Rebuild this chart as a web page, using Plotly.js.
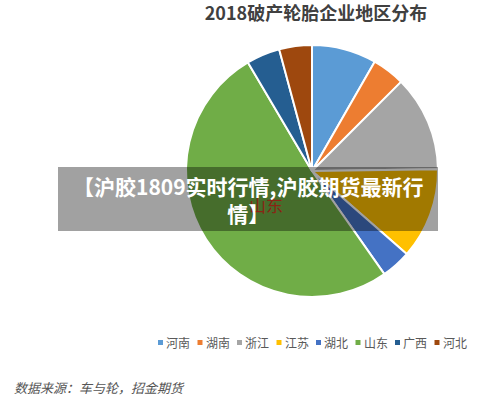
<!DOCTYPE html>
<html>
<head>
<meta charset="utf-8">
<script src="https://cdn.plot.ly/plotly-3.0.1.min.js"></script>
<style>html,body{margin:0;padding:0;background:#fff;}#chart{width:500px;height:400px;}</style>
</head>
<body>
<div id="chart"></div>
<script>
const regions = ["河南", "湖南", "浙江", "江苏", "湖北", "山东", "广西", "河北"];
const shares = [8.3, 4.2, 12.3, 11.7, 3.8, 51.3, 4.3, 4.2];
const colors = ["#5B9BD5", "#ED7D31", "#A5A5A5", "#FFC000", "#4472C4", "#70AD47", "#255E91", "#9E480E"];
const titleText = "2018破产轮胎企业地区分布";
const sourceText = "数据来源：车与轮，招金期货";
const bannerText = "【沪胶1809实时行情,沪胶期货最新行<br>情】";
const W = 500, H = 400;
const px = x => x / W;
const py = y => 1 - y / H;
const cjk = '"Noto Sans CJK SC", "Noto Sans", sans-serif';

const annotations = [];
const shapes = [];

// legend
regions.forEach((r, i) => {
  const x0 = 158 + 39.5 * i;
  shapes.push({type: 'rect', xref: 'paper', yref: 'paper',
    x0: px(x0), x1: px(x0 + 5), y0: py(345), y1: py(340),
    fillcolor: colors[i], line: {width: 0}});
  annotations.push({xref: 'paper', yref: 'paper', x: px(x0 + 6), y: py(342),
    xanchor: 'left', yanchor: 'middle', showarrow: false, text: r,
    font: {family: cjk, size: 12, color: '#595959'}});
});

// 山东 data label
annotations.push({xref: 'paper', yref: 'paper', x: px(266), y: py(205),
  xanchor: 'center', yanchor: 'middle', showarrow: false, text: regions[5],
  font: {family: cjk, size: 17, color: '#8A2414'}});

// source
annotations.push({xref: 'paper', yref: 'paper', x: px(12), y: py(387),
  xanchor: 'left', yanchor: 'middle', showarrow: false,
  text: '<i>' + sourceText + '</i>',
  font: {family: cjk, size: 13, color: '#555555'}});

// banner overlay
shapes.push({type: 'rect', xref: 'paper', yref: 'paper', layer: 'above',
  x0: px(58), x1: px(438), y0: py(231), y1: py(167),
  fillcolor: 'rgba(0,0,0,0.37)', line: {width: 0}});
annotations.push({xref: 'paper', yref: 'paper', x: px(248), y: py(199),
  xanchor: 'center', yanchor: 'middle', showarrow: false, align: 'center',
  text: '<b>' + bannerText + '</b>',
  font: {family: cjk, size: 21, color: '#ffffff'}});

const data = [{
  type: 'pie',
  labels: regions,
  values: shares,
  sort: false,
  direction: 'clockwise',
  rotation: 0,
  textinfo: 'none',
  hoverinfo: 'none',
  marker: {colors: colors, line: {color: '#ffffff', width: 2}},
  domain: {x: [px(312 - 126), px(312 + 126)], y: [1 - (171 + 126) / H, 1 - (171 - 126) / H]},
  showlegend: false
}];

const layout = {
  width: W, height: H,
  margin: {l: 0, r: 0, t: 0, b: 0},
  paper_bgcolor: '#ffffff',
  showlegend: false,
  title: {text: '<b>' + titleText + '</b>', x: px(316), xanchor: 'center', y: py(14), yanchor: 'middle',
    font: {family: cjk, size: 18, color: '#404040'}},
  shapes: shapes,
  annotations: annotations
};

Plotly.newPlot('chart', data, layout, {displayModeBar: false, staticPlot: true});
</script>
</body>
</html>
